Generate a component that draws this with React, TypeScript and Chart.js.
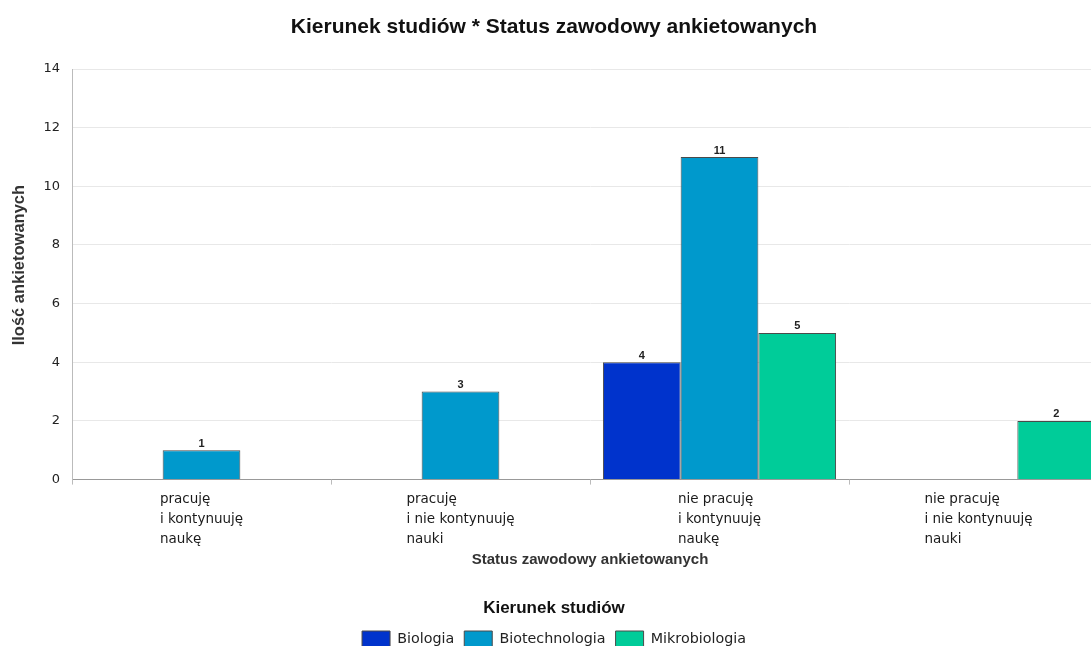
import React, { useEffect, useRef } from "react";
import { Chart, registerables } from "chart.js";

Chart.register(...registerables);

const chartTitle = "Kierunek studiów * Status zawodowy ankietowanych";
const yAxisTitle = "    Ilość ankietowanych";
const xAxisTitle = "Status zawodowy ankietowanych";
const legendTitle = "Kierunek studiów";

const categories: string[][] = [
  ["pracuję", "i kontynuuję", "naukę"],
  ["pracuję", "i nie kontynuuję", "nauki"],
  ["nie pracuję", "i kontynuuję", "naukę"],
  ["nie pracuję", "i nie kontynuuję", "nauki"],
];

const seriesNames = ["Biologia", "Biotechnologia", "Mikrobiologia"];
const biologia: (number | null)[] = [null, null, 4, null];
const biotechnologia: (number | null)[] = [1, 3, 11, null];
const mikrobiologia: (number | null)[] = [null, null, 5, 2];
const seriesColors = ["#0033CC", "#0099CC", "#00CC99"];

const yMin = 0;
const yMax = 14;
const yStep = 2;

const CANVAS_W = 1112;
const CANVAS_H = 657;

const TICK_SIZE = 13.5;
const TICK_FONT = `${TICK_SIZE}px "DejaVu Sans"`;
const TICK_LINE = 20.3;

const xLabelPlugin = {
  id: "leftAlignedXLabels",
  afterDraw(chart: any) {
    const xs = chart.scales.x;
    const ctx = chart.ctx;
    ctx.save();
    ctx.font = TICK_FONT;
    ctx.fillStyle = "#1a1a1a";
    ctx.textAlign = "left";
    ctx.textBaseline = "middle";
    categories.forEach((lines, i) => {
      const cx = xs.getPixelForValue(i);
      const maxW = Math.max(...lines.map((l) => ctx.measureText(l).width));
      const left = cx - maxW / 2;
      lines.forEach((line, k) => {
        ctx.fillText(line, left, xs.top + 19.5 + k * TICK_LINE);
      });
    });
    ctx.restore();
  },
};

const valueLabelPlugin = {
  id: "valueLabels",
  afterDatasetsDraw(chart: any) {
    const ctx = chart.ctx;
    ctx.save();
    ctx.font = 'bold 11px "Liberation Sans"';
    ctx.fillStyle = "#222";
    ctx.textAlign = "center";
    ctx.textBaseline = "bottom";
    chart.data.datasets.forEach((ds: any, di: number) => {
      const meta = chart.getDatasetMeta(di);
      meta.data.forEach((bar: any, i: number) => {
        const v = ds.data[i];
        if (v === null || v === undefined) return;
        ctx.fillText(String(v), bar.x, bar.y - 1);
      });
    });
    ctx.restore();
  },
};

export default function App() {
  const ref = useRef<HTMLCanvasElement | null>(null);

  useEffect(() => {
    document.body.style.margin = "0";
    document.body.style.overflow = "hidden";
    const canvas = ref.current!;
    const series = [biologia, biotechnologia, mikrobiologia];
    const chart = new Chart(canvas, {
      type: "bar",
      data: {
        labels: categories,
        datasets: series.map((d, i) => ({
          label: seriesNames[i],
          data: d,
          backgroundColor: seriesColors[i],
          borderColor: "#4a4a4a",
          borderWidth: 1,
          categoryPercentage: 0.9,
          barPercentage: 1.0,
        })),
      },
      options: {
        animation: false,
        responsive: false,
        devicePixelRatio: 1,
        layout: { padding: { left: 0, right: 4, top: 0, bottom: 0 } },
        plugins: {
          title: {
            display: true,
            text: chartTitle,
            color: "#111",
            font: { family: "Liberation Sans", size: 21, weight: "bold" },
            padding: { top: 14.4, bottom: 29.4 },
          },
          legend: {
            display: true,
            position: "bottom",
            title: {
              display: true,
              text: legendTitle,
              color: "#111",
              font: { family: "Liberation Sans", size: 17, weight: "bold", lineHeight: 1.2 },
              padding: { top: 2, bottom: 1.2 },
            },
            labels: {
              boxWidth: 28,
              boxHeight: 16,
              color: "#222",
              font: { family: "DejaVu Sans", size: 14.3 },
              padding: 10,
            },
          },
          tooltip: { enabled: false },
        },
        scales: {
          x: {
            afterFit: (s: any) => {
              s.height = 117.8;
            },
            grid: {
              display: true,
              drawOnChartArea: false,
              offset: true,
              tickLength: 5,
              color: "#bbbbbb",
            },
            border: { color: "#999999" },
            ticks: {
              color: "rgba(0,0,0,0)",
              font: { family: "DejaVu Sans", size: TICK_SIZE, lineHeight: TICK_LINE / TICK_SIZE },
              padding: 4,
              maxRotation: 0,
              autoSkip: false,
            },
            title: {
              display: true,
              text: xAxisTitle,
              color: "#333",
              font: { family: "Liberation Sans", size: 15, weight: "bold", lineHeight: 1.2 },
              padding: { top: 8, bottom: 28.8 },
            },
          },
          y: {
            min: yMin,
            max: yMax,
            afterFit: (s: any) => {
              s.width = 72;
            },
            grid: { color: "#e8e8e8", drawTicks: false },
            border: { color: "#bbbbbb" },
            ticks: {
              stepSize: yStep,
              color: "#222",
              font: { family: "DejaVu Sans", size: 13 },
              padding: 12,
            },
            title: {
              display: true,
              text: yAxisTitle,
              color: "#333",
              font: { family: "Liberation Sans", size: 16.5, weight: "bold", lineHeight: 1.2 },
              padding: { top: 10, bottom: 0 },
            },
          },
        },
      },
      plugins: [xLabelPlugin, valueLabelPlugin],
    });
    return () => chart.destroy();
  }, []);

  return (
    <div
      style={{
        position: "fixed",
        left: 0,
        top: 0,
        width: 1091,
        height: 646,
        overflow: "hidden",
        background: "#fff",
      }}
    >
      <canvas
        ref={ref}
        width={CANVAS_W}
        height={CANVAS_H}
        style={{ width: CANVAS_W, height: CANVAS_H, display: "block" }}
      />
    </div>
  );
}
